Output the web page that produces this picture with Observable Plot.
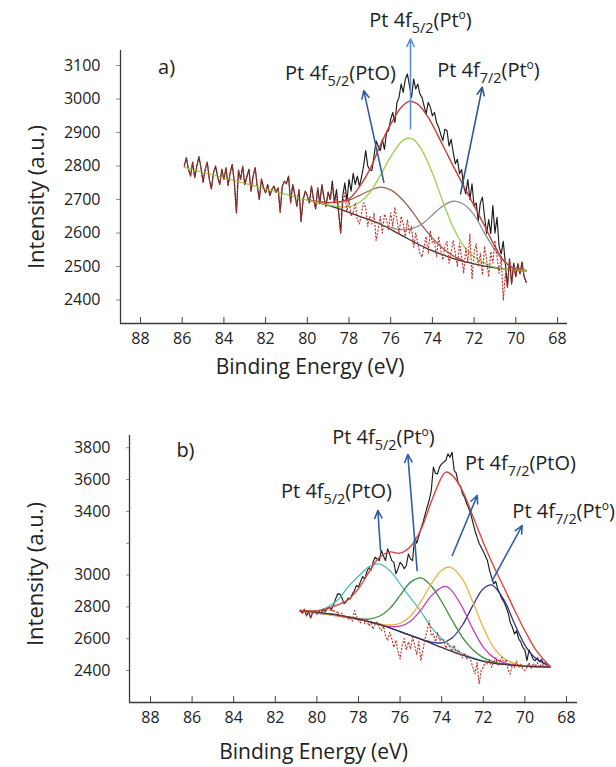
<!DOCTYPE html>
<html><head><meta charset="utf-8">
<script src="https://cdn.jsdelivr.net/npm/d3@7"></script>
<script src="https://cdn.jsdelivr.net/npm/@observablehq/plot@0.6"></script>
<style>
body{margin:0;background:#fff;}
#wrap{width:616px;height:767px;position:relative;overflow:hidden;font-family:"Open Sans",sans-serif;}
#wrap > div{position:absolute;left:0;}
#wrap svg{display:block;overflow:visible;}
</style></head><body><div id="wrap"><div id="pa" style="top:0"></div><div id="pb" style="top:390px"></div></div>
<script>
// ---------- shared axis ticks ----------
const xTicks = [88, 86, 84, 82, 80, 78, 76, 74, 72, 70, 68];
const yTicksA = [2400, 2500, 2600, 2700, 2800, 2900, 3000, 3100];
const yTicksB = [2400, 2600, 2800, 3000, 3200, 3400, 3600, 3800];
const yTickLabelsB = [2400, 2600, 2800, 3000, 3400, 3600, 3800];
const xLabel = "Binding Energy (eV)";
const yLabel = "Intensity (a.u.)";

// ---------- panel a : measured spectrum, 85.9 -> 69.5 eV, 0.1 eV step ----------
const countsA = [
 2800,2825,2790,2770,2812,2765,2800,2828,2795,2752,
 2790,2812,2760,2732,2780,2800,2768,2745,2790,2760,
 2795,2742,2780,2805,2752,2660,2788,2760,2800,2745,
 2768,2790,2725,2770,2795,2740,2700,2762,2735,2720,
 2745,2712,2730,2740,2722,2735,2662,2740,2755,2747,
 2770,2690,2745,2715,2680,2730,2635,2700,2725,2712,
 2690,2740,2700,2672,2735,2688,2745,2705,2680,2722,
 2700,2755,2690,2730,2665,2600,2712,2750,2695,2760,
 2725,2778,2745,2770,2740,2768,2800,2846,2800,2788,
 2787,2830,2875,2860,2846,2880,2850,2900,2906,2940,
 2960,2930,2990,3005,3045,3020,3060,3075,3040,3005,
 3060,3030,3045,3015,3005,2980,2956,2990,2976,2950,
 2960,2930,2916,2895,2876,2910,2906,2860,2880,2840,
 2807,2820,2777,2790,2740,2717,2760,2700,2747,2680,
 2690,2637,2690,2707,2650,2598,2640,2598,2682,2600,
 2647,2560,2538,2575,2508,2438,2523,2448,2510,2470,
 2508,2478,2513,2470,2453];
// residual (dotted) from 78.9 eV down; above 78.9 eV it equals the measured data
const residualA = [
 2700,2740,2690,2710,2660,2600,2690,2720,2665,2700,
 2650,2662,2690,2640,2627,2660,2690,2677,2620,2650,
 2627,2660,2578,2610,2650,2600,2657,2640,2610,2660,
 2620,2677,2640,2600,2650,2627,2590,2640,2600,2620,
 2558,2600,2570,2540,2528,2560,2590,2540,2607,2570,
 2578,2530,2590,2550,2520,2560,2575,2510,2545,2578,
 2540,2500,2570,2530,2480,2555,2515,2598,2463,2540,
 2568,2500,2540,2475,2560,2520,2470,2545,2510,2578,
 2530,2480,2530,2399,2478,2438,2523,2448,2500,2470,
 2508,2478,2513,2470,2453];
const bgA_E = [80, 78.7, 77.5, 76.5, 75.5, 74.4, 73.5, 72.8, 72.0, 71.0, 70.0, 69.5];
const bgA_I = [2699, 2677, 2650, 2627, 2594, 2558, 2535, 2520, 2508, 2496, 2489, 2486];
const envA_E = [80, 79, 78.5, 78, 77.5, 77, 76.5, 76, 75.5, 75.1, 74.7, 74.2, 73.5, 73, 72.5, 72, 71.5, 71, 70.5, 70, 69.5];
const envA_I = [2699, 2691, 2693, 2702, 2738, 2790, 2862, 2925, 2975, 2993, 2985, 2945, 2862, 2800, 2740, 2682, 2622, 2560, 2512, 2492, 2487];
const greenA_E = [85.9, 84, 82, 80, 78.7, 78.0, 77.5, 77.0, 76.5, 76.0, 75.5, 75.2, 74.9, 74.5, 74.0, 73.5, 73.0, 72.5, 72.0, 71.5, 71.0, 70.0, 69.5];
const greenA_I = [2796, 2765, 2732, 2699, 2681, 2678, 2691, 2721, 2772, 2828, 2872, 2883, 2879, 2847, 2779, 2694, 2617, 2562, 2529, 2510, 2498, 2489, 2486];
const brownA_E = [79.5, 79, 78.5, 78, 77.5, 77, 76.5, 76, 75.5, 75, 74.5, 74, 73.5, 73, 72.5];
const brownA_I = [2694, 2691, 2693, 2698, 2712, 2727, 2737, 2729, 2704, 2667, 2623, 2585, 2555, 2532, 2518];
const grayA_E = [76, 75.5, 75, 74.5, 74, 73.5, 73, 72.5, 72, 71.5, 71, 70.5, 70, 69.5];
const grayA_I = [2617, 2610, 2613, 2627, 2654, 2681, 2695, 2686, 2654, 2600, 2550, 2512, 2495, 2489];
const arrowA_fromE = [76.33, 75.05, 72.65];
const arrowA_fromI = [2752, 2911, 2717];
const arrowA_toE = [77.29, 75.05, 71.61];
const arrowA_toI = [3025, 3180, 3035];
const arrowA_color = ["#2f5d9c", "#5b8fd0", "#2f5597"];
const labelA_text = ["a)", "Pt 4f_{5/2}(Pt^{o})", "Pt 4f_{5/2}(PtO)", "Pt 4f_{7/2}(Pt^{o})"];
const labelA_E = [86.75, 74.57, 78.41, 71.31];
const labelA_I = [3094, 3234, 3076, 3085];

// ---------- panel b : measured spectrum, 80.8 -> 68.8 eV, 0.1 eV step ----------
const countsB = [
 2778,2760,2785,2745,2770,2730,2768,2775,2755,
 2772,2760,2785,2770,2790,2800,2785,2810,2850,2882,
 2880,2860,2820,2830,2855,2850,2880,2900,2935,2925,
 2960,2990,2975,3020,3049,3030,3080,3112,3100,3091,
 3154,3120,3091,3165,3130,3091,3080,3008,3040,3080,
 3065,3040,3060,3133,3100,3091,3238,3200,3245,3290,
 3330,3380,3426,3470,3531,3678,3640,3636,3680,3699,
 3710,3720,3762,3740,3772,3657,3640,3573,3560,3510,
 3489,3450,3420,3385,3330,3280,3238,3200,3175,3150,
 3120,3091,3030,2986,2945,2960,2910,2882,2850,2830,
 2797,2760,2700,2672,2630,2650,2600,2580,2546,2530,
 2462,2530,2500,2470,2462,2480,2455,2470,2441,2450,
 2441,2420];
const residualB = [
 2790,2770,2785,2750,2772,
 2740,2760,2730,2745,2720,2735,2710,2777,2740,2715,
 2700,2730,2695,2712,2680,2700,2660,2690,2705,2670,
 2650,2680,2620,2588,2640,2600,2546,2590,2520,2473,
 2560,2600,2530,2580,2536,2610,2560,2500,2580,2462,
 2530,2600,2650,2714,2620,2630,2580,2640,2588,2600,
 2588,2540,2570,2546,2520,2560,2504,2530,2500,2480,
 2510,2470,2490,2462,2420,2379,2450,2316,2400,2420,
 2460,2440,2470,2420,2450,2480,2430,2460,2483,2440,
 2470,2400,2379,2440,2420,2460,2420,2440,2410,2400,
 2420,2450,2410,2440,2430,2450,2420,2440,2425,2430,
 2428,2415];
const bgB_E = [80.8, 80, 79, 78, 77, 76, 75, 74, 73, 72, 71, 70, 68.8];
const bgB_I = [2775, 2765, 2748, 2722, 2690, 2645, 2597, 2545, 2497, 2458, 2438, 2428, 2422];
const envB_E = [80.8, 80, 79.5, 79, 78.5, 78, 77.5, 77, 76.5, 76, 75.5, 75, 74.5, 74, 73.8, 73.5, 73, 72.5, 72, 71.5, 71, 70.5, 70, 69.5, 69, 68.8];
const envB_I = [2778, 2775, 2790, 2812, 2845, 2915, 3018, 3110, 3145, 3138, 3180, 3285, 3460, 3615, 3647, 3628, 3530, 3370, 3205, 3055, 2920, 2780, 2650, 2535, 2455, 2425];
const cyanB_E = [80.8, 80, 79.5, 79, 78.5, 78, 77.5, 77, 76.5, 76, 75.5, 75, 74.5, 74, 73.5, 73, 72, 71, 70, 68.8];
const cyanB_I = [2778, 2775, 2797, 2843, 2925, 2992, 3051, 3070, 3028, 2945, 2856, 2772, 2671, 2600, 2546, 2507, 2460, 2438, 2428, 2422];
const greenB_E = [80.8, 79, 78, 77.5, 77, 76.5, 76, 75.5, 75, 74.5, 74, 73.5, 73, 72.5, 72, 71.5, 71, 70, 68.8];
const greenB_I = [2775, 2748, 2726, 2723, 2741, 2789, 2872, 2954, 2982, 2931, 2832, 2716, 2609, 2531, 2481, 2455, 2440, 2428, 2422];
const magentaB_E = [80.8, 78, 77, 76.5, 76, 75.5, 75, 74.5, 74, 73.75, 73.5, 73, 72.5, 72, 71.5, 71, 70.5, 70, 68.8];
const magentaB_I = [2775, 2722, 2691, 2678, 2679, 2710, 2781, 2869, 2923, 2928, 2899, 2795, 2660, 2547, 2481, 2448, 2436, 2430, 2422];
const orangeB_E = [80.8, 78, 77, 76.5, 76, 75.5, 75, 74.5, 74, 73.6, 73, 72.5, 72, 71.5, 71, 70.5, 70, 68.8];
const orangeB_I = [2775, 2722, 2692, 2686, 2697, 2743, 2833, 2944, 3030, 3050, 2975, 2830, 2670, 2545, 2475, 2445, 2430, 2422];
const blueB_E = [80.8, 79, 77, 75.5, 74.5, 74, 73.5, 73, 72.5, 72, 71.6, 71, 70.5, 70, 69.5, 69, 68.8];
const blueB_I = [2775, 2748, 2690, 2621, 2579, 2574, 2605, 2686, 2809, 2914, 2938, 2842, 2695, 2560, 2478, 2440, 2431];
const arrowB_fromE = [76.94, 75.18, 73.49, 71.57];
const arrowB_fromI = [3154, 3028, 3123, 2965];
const arrowB_toE = [77.07, 75.63, 72.29, 70.13];
const arrowB_toI = [3406, 3758, 3500, 3311];
const arrowB_color = ["#2f5fa7", "#2f5fa7", "#2f5fa7", "#2f5fa7"];
const labelB_text = ["b)", "Pt 4f_{5/2}(Pt^{o})", "Pt 4f_{7/2}(PtO)", "Pt 4f_{5/2}(PtO)", "Pt 4f_{7/2}(Pt^{o})"];
const labelB_E = [86.32, 76.8, 70.21, 79.06, 68.14];
const labelB_I = [3783, 3865, 3701, 3525, 3399];

// ---------- builder ----------
function rows(E, I) { return E.map((e, i) => ({e, v: I[i]})); }

function buildPanel(p) {
  const energies = d3.range(p.counts.length).map(i => +(p.eStart - i * 0.1).toFixed(2));
  const measured = energies.map((e, i) => ({e, v: p.counts[i]}));
  const nShared = p.counts.length - p.residual.length;
  const resid = energies.map((e, i) => ({e, v: i < nShared ? p.counts[i] : p.residual[i - nShared]}));
  const ai = d3.range(p.arrows.fromE.length);
  const li = d3.range(p.labels.text.length);
  return Plot.plot({
    width: 616, height: p.height,
    marginLeft: p.margin[3], marginRight: p.margin[1], marginTop: p.margin[0], marginBottom: p.margin[2],
    x: {domain: p.xDomain},
    y: {domain: p.yDomain},
    style: {fontFamily: "'Open Sans', sans-serif", color: "#222", background: "#fff", overflow: "visible"},
    marks: [
      Plot.axisX(xTicks, {tickSize: -6, fontSize: 16, label: null, stroke: "#444"}),
      Plot.axisY(p.yTicks, {tickSize: p.yTickSize, tickPadding: p.yTickPadding, fontSize: 16, label: null, stroke: "#8a8a8a", tickFormat: p.tickFormat}),
      Plot.ruleX([p.xDomain[0]], {stroke: "#3a3a3a", strokeWidth: 1.3}),
      Plot.ruleY([p.yDomain[0]], {stroke: "#3a3a3a", strokeWidth: 1.3}),
      Plot.line(measured, {x: "e", y: "v", stroke: "#1c1c1c", strokeWidth: 1.15}),
      ...p.curves.map(c => Plot.line(rows(c.E, c.I), {x: "e", y: "v", stroke: c.color, strokeWidth: c.w || 1.3, curve: "catmull-rom"})),
      Plot.line(resid, {x: "e", y: "v", stroke: "#c0342c", strokeWidth: 1.2, strokeDasharray: "1.1,2.4"}),
      Plot.arrow(ai, {x1: i => p.arrows.fromE[i], y1: i => p.arrows.fromI[i], x2: i => p.arrows.toE[i], y2: i => p.arrows.toI[i],
        stroke: i => p.arrows.color[i], strokeWidth: 1.6, headLength: 8, headAngle: 50}),
      Plot.text(li, {x: i => p.labels.E[i], y: i => p.labels.I[i], text: i => p.labels.text[i], fontSize: 20, fill: "#222"}),
      Plot.text([xLabel], {frameAnchor: "bottom", textAnchor: "middle", lineAnchor: "middle", dx: p.xLabelOffset[0], dy: p.xLabelOffset[1], fontSize: 21, fill: "#222"}),
      Plot.text([yLabel], {frameAnchor: "left", textAnchor: "middle", lineAnchor: "middle", rotate: -90, dx: p.yLabelOffset[0], dy: p.yLabelOffset[1], fontSize: 22, fill: "#222"})
    ]
  });
}

function richText(svg, fs) {
  const ns = "http://www.w3.org/2000/svg";
  svg.querySelectorAll("text").forEach(t => {
    const s = t.textContent;
    if (!/[_^]\{/.test(s)) return;
    t.textContent = "";
    const re = /([_^])\{([^}]*)\}/g;
    let last = 0, m, shift = 0;
    const add = (txt, kind) => {
      const sp = document.createElementNS(ns, "tspan");
      let target = 0, size = null;
      if (kind === "_") { target = fs * 0.3; size = fs * 0.72; }
      else if (kind === "^") { target = -fs * 0.4; size = fs * 0.6; }
      const d = target - shift;
      if (d) sp.setAttribute("dy", d.toFixed(2));
      shift = target;
      if (size) sp.setAttribute("font-size", size.toFixed(1));
      sp.textContent = txt;
      t.appendChild(sp);
    };
    while ((m = re.exec(s))) {
      if (m.index > last) add(s.slice(last, m.index), "");
      add(m[2], m[1]);
      last = re.lastIndex;
    }
    if (last < s.length) add(s.slice(last), "");
  });
}

const svgA = buildPanel({
  height: 390, margin: [50, 49, 67, 120],
  xDomain: [88.96, 67.52], yDomain: [2330, 3145],
  yTicks: yTicksA, yTickSize: 4, yTickPadding: 16, tickFormat: d => String(d),
  counts: countsA, residual: residualA, eStart: 85.9,
  curves: [
    {E: bgA_E, I: bgA_I, color: "#3b3434"},
    {E: brownA_E, I: brownA_I, color: "#9e5f55"},
    {E: grayA_E, I: grayA_I, color: "#8d8d8d"},
    {E: envA_E, I: envA_I, color: "#c6403a", w: 1.4},
    {E: greenA_E, I: greenA_I, color: "#9ccf4f"}
  ],
  arrows: {fromE: arrowA_fromE, fromI: arrowA_fromI, toE: arrowA_toE, toI: arrowA_toI, color: arrowA_color},
  labels: {text: labelA_text, E: labelA_E, I: labelA_I},
  xLabelOffset: [-34, 44], yLabelOffset: [-84, 10]
});
const svgB = buildPanel({
  height: 377, margin: [45, 39, 65, 129],
  xDomain: [89.01, 67.47], yDomain: [2199, 3877],
  yTicks: yTicksB, yTickSize: 3, yTickPadding: 16, tickFormat: d => yTickLabelsB.includes(d) ? String(d) : "",
  counts: countsB, residual: residualB, eStart: 80.8,
  curves: [
    {E: blueB_E, I: blueB_I, color: "#2d3696"},
    {E: cyanB_E, I: cyanB_I, color: "#4cc2b4"},
    {E: greenB_E, I: greenB_I, color: "#3d8c3d"},
    {E: magentaB_E, I: magentaB_I, color: "#c23ec8"},
    {E: orangeB_E, I: orangeB_I, color: "#f0b03c"},
    {E: bgB_E, I: bgB_I, color: "#2e2e48"},
    {E: envB_E, I: envB_I, color: "#dc4540", w: 1.4}
  ],
  arrows: {fromE: arrowB_fromE, fromI: arrowB_fromI, toE: arrowB_toE, toI: arrowB_toI, color: arrowB_color},
  labels: {text: labelB_text, E: labelB_E, I: labelB_I},
  xLabelOffset: [-40, 50], yLabelOffset: [-94, 5]
});
richText(svgA, 20);
richText(svgB, 20);
document.getElementById("pa").appendChild(svgA);
document.getElementById("pb").appendChild(svgB);
</script></body></html>
